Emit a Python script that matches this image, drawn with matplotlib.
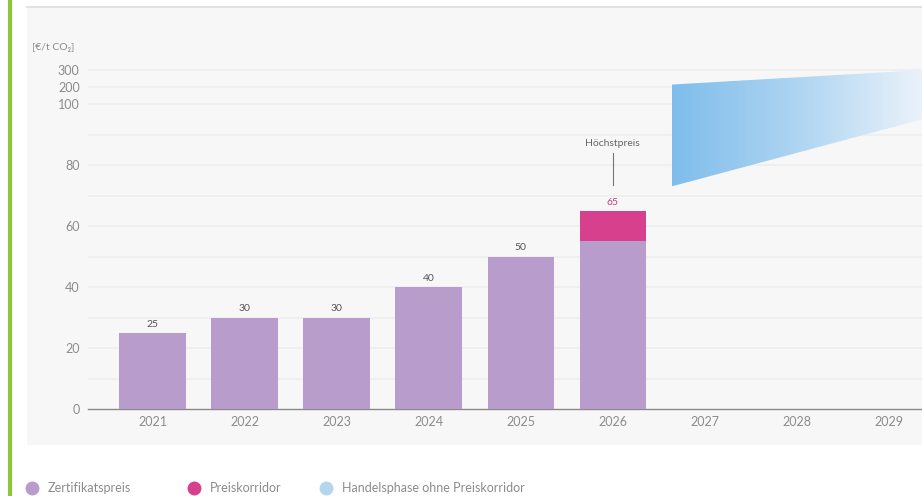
import numpy as np
import matplotlib
matplotlib.use("Agg")
import matplotlib.pyplot as plt
from matplotlib.patches import Rectangle, Polygon
from matplotlib.lines import Line2D
from matplotlib.colors import LinearSegmentedColormap

plt.rcParams['font.family'] = ['Lato', 'DejaVu Sans']

# --- data -------------------------------------------------------------
years = [2021, 2022, 2023, 2024, 2025, 2026, 2027, 2028, 2029]
bar_years = [2021, 2022, 2023, 2024, 2025, 2026]
fixed_price = [25, 30, 30, 40, 50, 55]      # Zertifikatspreis
corridor_add = [0, 0, 0, 0, 0, 10]          # Preiskorridor on top
price_labels = [25, 30, 30, 40, 50, 65]
ceiling_year = 2026

# open trading phase: outline of the uncertain price range
phase_x = [2026.64, 2029.36]
phase_low = [73, 95]
phase_high = [215, 300]

y_ticks = [0, 20, 40, 60, 80, 100, 200, 300]
grid_levels = [10, 20, 30, 40, 50, 60, 70, 80, 90, 100, 200, 300]

# --- colours ----------------------------------------------------------
PURPLE = '#b89dcc'
PINK = '#d6408d'
GREY_TXT = '#8c8c8c'
PANEL = '#f7f7f7'

# compressed scale above 100
K = 0.0557


def fwd(y):
    y = np.asarray(y, dtype=float)
    return np.where(y <= 100, y, 100 + (y - 100) * K)


def inv(t):
    t = np.asarray(t, dtype=float)
    return np.where(t <= 100, t, 100 + (t - 100) / K)


fig = plt.figure(figsize=(9.22, 4.96), dpi=100)
fig.patch.set_facecolor('white')

# grey panel and left accent line
fig.add_artist(Rectangle((27 / 922, 1 - 445 / 496), 1 - 27 / 922, (445 - 8) / 496,
                         transform=fig.transFigure, facecolor=PANEL,
                         edgecolor='none', zorder=0))
fig.add_artist(Line2D([27 / 922, 1], [1 - 7 / 496, 1 - 7 / 496],
                      transform=fig.transFigure, color='#e2e2e2', lw=1.5, zorder=1))
fig.add_artist(Line2D([10 / 922, 10 / 922], [0, 1], transform=fig.transFigure,
                      color='#8cc63f', lw=3, zorder=1))

ax = fig.add_axes([88 / 922, 87 / 496, 1 - 88 / 922, 379 / 496])
ax.set_facecolor('none')
ax.set_yscale('function', functions=(fwd, inv))
ax.set_xlim(2020.30, 2029.36)
ax.set_ylim(0, float(inv(124.3)))

# faint horizontal grid
for g in grid_levels:
    ax.axhline(g, color='#eeeeee', lw=1.2, zorder=1)

# bars
ax.bar(bar_years, fixed_price, width=0.72, color=PURPLE, zorder=3)
ax.bar(bar_years, corridor_add, bottom=fixed_price, width=0.72, color=PINK, zorder=3)

for x, v in zip(bar_years, price_labels):
    col = '#c8407f' if x == ceiling_year else '#555555'
    ax.annotate(str(v), (x, v), xytext=(0, 3), textcoords='offset points',
                ha='center', va='bottom', fontsize=7.5, color=col, zorder=4)

# ceiling price marker
ax.plot([ceiling_year, ceiling_year], [73.5, 84], color='#777777', lw=0.8, zorder=4)
ax.text(ceiling_year, 85.5, 'Höchstpreis', ha='center', va='bottom',
        fontsize=7.5, color='#666666', zorder=4)

# open trading phase wedge with horizontal fade
verts = [(phase_x[0], phase_low[0]), (phase_x[1], phase_low[1]),
         (phase_x[1], phase_high[1]), (phase_x[0], phase_high[0])]
poly = Polygon(verts, closed=True, facecolor='none', edgecolor='none',
               transform=ax.transData)
ax.add_patch(poly)
cmap = LinearSegmentedColormap.from_list(
    'fade', [(0.0, '#7fbdeb'), (0.45, '#a9d2f1'), (1.0, '#eaf2fa')])
grad = np.linspace(0, 1, 256).reshape(1, -1)
x0 = (phase_x[0] - 2020.30) / (2029.36 - 2020.30)
im = ax.imshow(grad, cmap=cmap, aspect='auto', extent=[x0, 1, 0, 1],
               transform=ax.transAxes, zorder=2, interpolation='bilinear')
im.set_clip_path(poly)

# axes styling
for s in ['top', 'right', 'left']:
    ax.spines[s].set_visible(False)
ax.spines['bottom'].set_color('#8a8a8a')
ax.spines['bottom'].set_linewidth(1)
ax.set_yticks(y_ticks)
ax.set_yticklabels([str(t) for t in y_ticks])
ax.yaxis.set_minor_locator(plt.NullLocator())
ax.set_xticks(years)
ax.set_xticklabels([str(y) for y in years])
ax.tick_params(axis='y', length=0, pad=6, labelsize=9, labelcolor=GREY_TXT)
ax.tick_params(axis='x', length=0, pad=5, labelsize=9, labelcolor=GREY_TXT)

fig.text(32 / 922, 1 - 47 / 496, '[€/t CO₂]', ha='left', va='center',
         fontsize=7.5, color=GREY_TXT)

# legend row
legend_items = [('Zertifikatspreis', PURPLE, 32), ('Preiskorridor', PINK, 194),
                ('Handelsphase ohne Preiskorridor', '#b3d6ee', 326)]
ly = 1 - 488 / 496
for label, col, px in legend_items:
    fig.add_artist(Line2D([px / 922], [ly], marker='o', markersize=9, color=col,
                          linestyle='none', transform=fig.transFigure))
    fig.text((px + 16) / 922, ly, label, ha='left', va='center',
             fontsize=9, color=GREY_TXT)

fig.savefig('out.png', dpi=100, facecolor=fig.get_facecolor())
